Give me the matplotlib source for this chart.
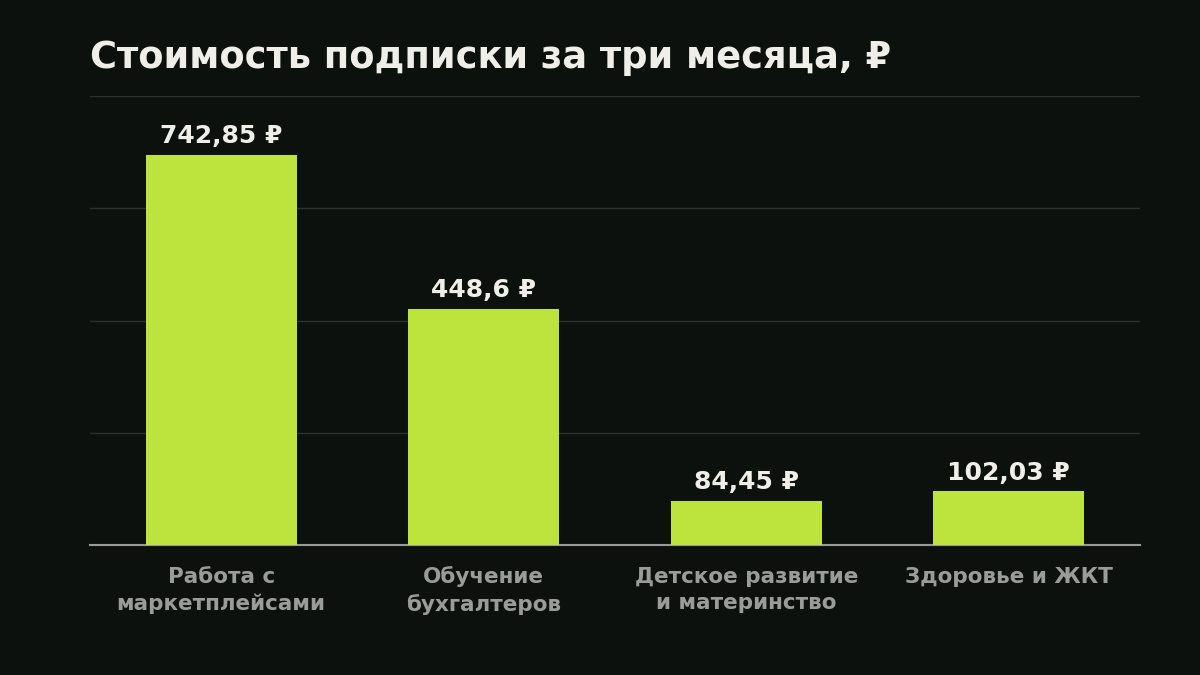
import numpy as np
from matplotlib import pyplot as plt

categories = ['Работа с\nмаркетплейсами', 'Обучение\nбухгалтеров',
              'Детское развитие\nи материнство', 'Здоровье и ЖКТ']
values = [742.85, 448.6, 84.45, 102.03]
labels = ['742,85 ₽', '448,6 ₽', '84,45 ₽', '102,03 ₽']

BG = '#0c110e'
BAR = '#bde43c'
TEXT = '#f0eee8'
MUTED = '#9a9c98'

plt.rcParams['font.family'] = ['DejaVu Sans']

fig = plt.figure(figsize=(12, 6.75), dpi=100, facecolor=BG)
ax = fig.add_axes([0.075, 0.1926, 0.875, 0.665], facecolor=BG)

x = np.arange(len(values))
ax.bar(x, values, width=0.575, color=BAR, zorder=3)

ymax = max(values) * 1.15
ax.set_ylim(0, ymax)
ax.set_xlim(-0.5, len(values) - 0.5)
ax.set_yticks(np.linspace(0, ymax, 5))
ax.yaxis.grid(True, color='#2c302d', linewidth=1)
ax.set_axisbelow(True)
ax.tick_params(axis='y', left=False, labelleft=False)
ax.tick_params(axis='x', bottom=False, pad=12)
ax.set_xticks(x)
ax.set_xticklabels(categories, color=MUTED, fontsize=15.5, fontweight='bold',
                   linespacing=1.4)

for s in ['top', 'right', 'left']:
    ax.spines[s].set_visible(False)
ax.spines['bottom'].set_color('#9a9a9a')
ax.spines['bottom'].set_linewidth(1.5)

for xi, v, lab in zip(x, values, labels):
    ax.annotate(lab, (xi, v), xytext=(0, 8.5), textcoords='offset points',
                ha='center', va='baseline', color=TEXT, fontsize=18,
                fontweight='bold')

fig.text(0.075, 1 - 67.5 / 675, 'Стоимость подписки за три месяца, ₽',
         color=TEXT, fontsize=26.5, fontweight='bold', ha='left',
         va='baseline')

plt.savefig('out.png', facecolor=BG)
plt.close()
